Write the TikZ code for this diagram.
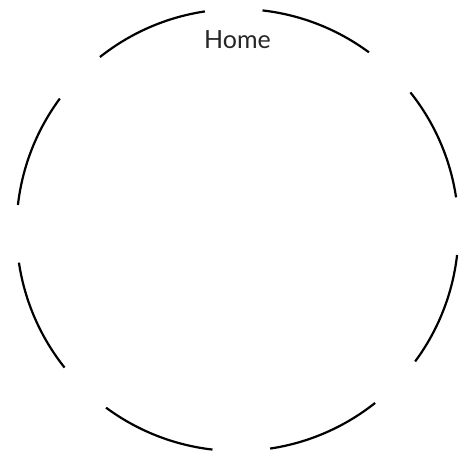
\documentclass[tikz,border=0pt]{standalone}
\usepackage{fontspec}
\setmainfont{Lato}
\usepackage{tikz}
\usetikzlibrary{calc}

\begin{document}
\begin{tikzpicture}[
        x=1pt, y=1pt,
        ring/.style={line width=2.2pt, draw=black},
        label/.style={font=\fontsize{25}{30}\selectfont, text=black!85, inner sep=0pt}
    ]
        % --- FRAME ---
        \useasboundingbox (0,0) rectangle (463,453);
        \coordinate (centre) at (237.5,223);

        % --- RING SEGMENTS ---
        \foreach \k in {0,...,7}{
            \draw[ring] ($(centre)+({45*\k+8.5}:221)$) arc[start angle={45*\k+8.5}, end angle={45*\k+38.5}, radius=221];
        }

        % --- TEXT ---
        \node[label, anchor=base] (home) at (237.5,404) {Home};
    \end{tikzpicture}
\end{document}
